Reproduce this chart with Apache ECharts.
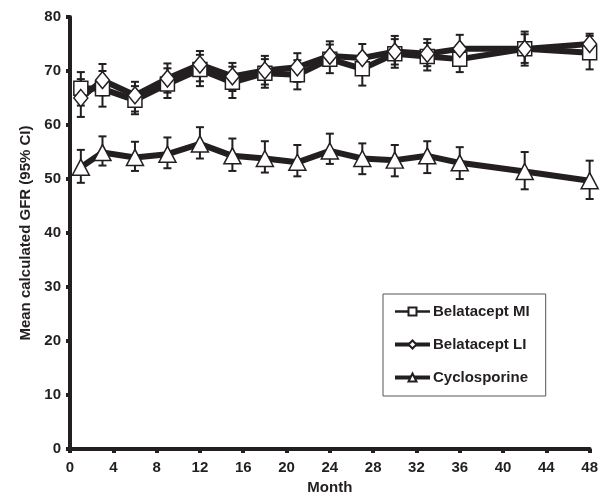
<!DOCTYPE html>
<html>
<head>
<meta charset="utf-8">
<script src="https://cdn.jsdelivr.net/npm/echarts@6/dist/echarts.min.js"></script>
<style>
  html, body { margin: 0; padding: 0; background: #fff; }
  #chart { width: 601px; height: 500px; }
</style>
</head>
<body>
<div id="chart"></div>
<script>
// visit months
var months = [1, 3, 6, 9, 12, 15, 18, 21, 24, 27, 30, 33, 36, 42, 48];

// Belatacept MI (squares)
var miMean  = [66.8, 66.7, 64.6, 67.6, 70.3, 67.9, 69.6, 69.3, 72.2, 70.4, 73.2, 72.7, 72.2, 74.1, 73.4];
var miLow   = [63.6, 63.4, 62.0, 65.0, 67.2, 65.0, 66.9, 66.6, 69.6, 67.3, 70.6, 70.1, 69.8, 71.0, 70.3];
var miHigh  = [69.8, 70.0, 67.2, 70.5, 73.0, 70.8, 72.2, 72.0, 74.9, 73.2, 75.9, 75.2, 74.8, 77.3, 76.5];

// Belatacept LI (diamonds)
var liMean  = [65.0, 68.3, 65.5, 68.6, 71.2, 69.0, 70.1, 70.7, 72.8, 72.4, 73.6, 73.2, 74.1, 74.1, 75.0];
var liLow   = [61.5, 65.5, 62.5, 66.0, 68.1, 66.3, 67.5, 68.0, 71.2, 69.8, 71.2, 70.9, 71.5, 71.5, 72.5];
var liHigh  = [68.5, 71.3, 68.0, 71.4, 73.7, 71.5, 72.8, 73.3, 75.5, 75.0, 76.5, 75.9, 76.7, 76.8, 76.9];

// Cyclosporine (triangles)
var csMean  = [52.2, 54.9, 54.0, 54.6, 56.5, 54.3, 53.8, 53.1, 55.2, 53.8, 53.5, 54.3, 53.0, 51.4, 49.7];
var csLow   = [49.3, 52.5, 51.5, 52.0, 53.8, 51.5, 51.2, 50.5, 52.8, 50.9, 50.5, 51.1, 50.0, 48.1, 46.3];
var csHigh  = [55.4, 57.9, 56.9, 57.7, 59.6, 57.5, 57.0, 56.3, 58.4, 56.6, 56.3, 57.0, 55.9, 55.0, 53.4];

var seriesNames = ["Belatacept MI", "Belatacept LI", "Cyclosporine"];
var ink = "#231f20";
var font = "'Liberation Sans', Arial, sans-serif";

function pairs(vals) {
  return months.map(function (m, i) { return [m, vals[i]]; });
}
function bars(lo, hi) {
  return months.map(function (m, i) { return [m, lo[i], hi[i]]; });
}

function renderErrorBar(params, api) {
  var x = api.value(0);
  var top = api.coord([x, api.value(2)]);
  var bot = api.coord([x, api.value(1)]);
  var half = 4;
  var style = { stroke: ink, lineWidth: 2 };
  return {
    type: "group",
    children: [
      { type: "line", shape: { x1: top[0], y1: top[1], x2: bot[0], y2: bot[1] }, style: style },
      { type: "line", shape: { x1: top[0] - half, y1: top[1], x2: top[0] + half, y2: top[1] }, style: style },
      { type: "line", shape: { x1: bot[0] - half, y1: bot[1], x2: bot[0] + half, y2: bot[1] }, style: style }
    ]
  };
}

function errSeries(lo, hi) {
  return {
    type: "custom",
    renderItem: renderErrorBar,
    encode: { x: 0, y: [1, 2] },
    data: bars(lo, hi),
    z: 1,
    silent: true
  };
}

function lineSeries(name, vals, symbol, size, width) {
  return {
    name: name,
    type: "line",
    data: pairs(vals),
    symbol: symbol,
    symbolSize: size,
    showAllSymbol: true,
    lineStyle: { color: ink, width: width },
    itemStyle: { color: "#fff", borderColor: ink, borderWidth: 1.5 },
    z: 3
  };
}

var labelStyle = { color: ink, fontSize: 15, fontWeight: "bold", fontFamily: font };

var chart = echarts.init(document.getElementById("chart"));
chart.setOption({
  animation: false,
  backgroundColor: "#fff",
  textStyle: { fontFamily: font },
  grid: { left: 70, right: 11, top: 17, bottom: 48 },
  legend: {
    orient: "vertical",
    left: 383,
    top: 294,
    padding: [10, 16, 11, 10],
    itemGap: 18,
    itemWidth: 35,
    itemHeight: 10,
    borderColor: "#555",
    borderWidth: 1,
    lineStyle: { width: 4 },
    data: [
      { name: seriesNames[0], lineStyle: { width: 2.5 } },
      { name: seriesNames[1] },
      { name: seriesNames[2] }
    ],
    textStyle: { color: ink, fontSize: 15, fontWeight: "bold", fontFamily: font, padding: [0, 0, 0, -2] }
  },
  xAxis: {
    type: "value",
    min: 0,
    max: 48,
    interval: 4,
    name: "Month",
    nameLocation: "middle",
    nameGap: 29,
    nameTextStyle: labelStyle,
    axisLine: { lineStyle: { color: ink, width: 4 } },
    axisTick: { lineStyle: { color: ink, width: 4 }, length: 4 },
    axisLabel: Object.assign({ margin: 11 }, labelStyle),
    splitLine: { show: false }
  },
  yAxis: {
    type: "value",
    min: 0,
    max: 80,
    interval: 10,
    name: "Mean calculated GFR (95% CI)",
    nameLocation: "middle",
    nameGap: 37,
    nameTextStyle: labelStyle,
    axisLine: { lineStyle: { color: ink, width: 4 } },
    axisTick: { lineStyle: { color: ink, width: 4 }, length: 4 },
    axisLabel: Object.assign({ margin: 9 }, labelStyle),
    splitLine: { show: false }
  },
  series: [
    errSeries(miLow, miHigh),
    errSeries(liLow, liHigh),
    errSeries(csLow, csHigh),
    lineSeries(seriesNames[0], miMean, "rect", 14, 6),
    lineSeries(seriesNames[1], liMean, "diamond", [14, 17], 6),
    lineSeries(seriesNames[2], csMean, "triangle", [17, 16], 6)
  ]
});
</script>
</body>
</html>
